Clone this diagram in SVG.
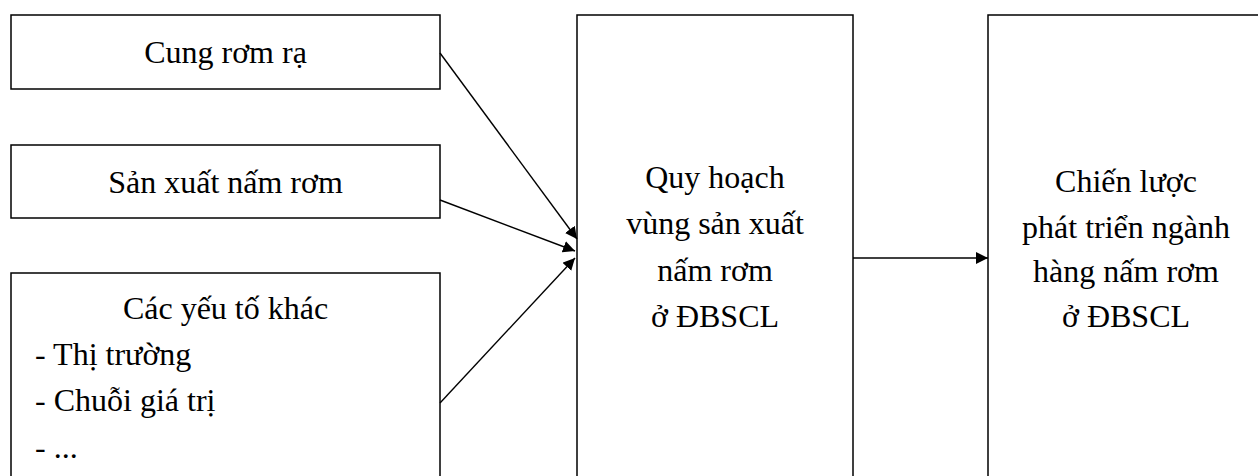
<svg xmlns="http://www.w3.org/2000/svg" width="1258" height="476" viewBox="0 0 1258 476">
<style>
.box{fill:#fff;stroke:#000;stroke-width:1.5}
.t{font-family:"Liberation Serif","Times New Roman",serif;font-size:32px;fill:#000}
.c{text-anchor:middle}
.e{stroke:#000;stroke-width:1.4;fill:none;marker-end:url(#ah)}
</style>
<defs>
<marker id="ah" viewBox="0 0 12 12" refX="12" refY="6" markerWidth="12" markerHeight="12" markerUnits="userSpaceOnUse" orient="auto">
<path d="M0,0 L12,6 L0,12 Z" fill="#000"/>
</marker>
</defs>
<rect width="1258" height="476" fill="#fff"/>
<g id="n1">
<rect class="box" x="11" y="15" width="429" height="74"/>
<text class="t c" x="225.5" y="63">Cung rơm rạ</text>
</g>
<g id="n2">
<rect class="box" x="11" y="145" width="429" height="73"/>
<text class="t c" x="225.5" y="193">Sản xuất nấm rơm</text>
</g>
<g id="n3">
<rect class="box" x="11" y="273" width="429" height="220"/>
<text class="t c" x="225.5" y="319">Các yếu tố khác</text>
<text class="t" x="35" y="365">- Thị trường</text>
<text class="t" x="35" y="411">- Chuỗi giá trị</text>
<text class="t" x="35" y="458">- ...</text>
</g>
<g id="n4">
<rect class="box" x="577" y="15" width="276" height="480"/>
<text class="t c" x="715" y="188">Quy hoạch</text>
<text class="t c" x="715" y="234">vùng sản xuất</text>
<text class="t c" x="715" y="281">nấm rơm</text>
<text class="t c" x="715" y="327">ở ĐBSCL</text>
</g>
<g id="n5">
<rect class="box" x="988" y="15" width="290" height="480"/>
<text class="t c" x="1126" y="192">Chiến lược</text>
<text class="t c" x="1126" y="238">phát triển ngành</text>
<text class="t c" x="1126" y="282">hàng nấm rơm</text>
<text class="t c" x="1126" y="327">ở ĐBSCL</text>
</g>
<g id="edges">
<line class="e" x1="440" y1="53" x2="577" y2="239"/>
<line class="e" x1="440" y1="200" x2="575" y2="251"/>
<line class="e" x1="440" y1="403" x2="575" y2="258"/>
<line class="e" x1="853" y1="258" x2="988" y2="258"/>
</g>
</svg>
